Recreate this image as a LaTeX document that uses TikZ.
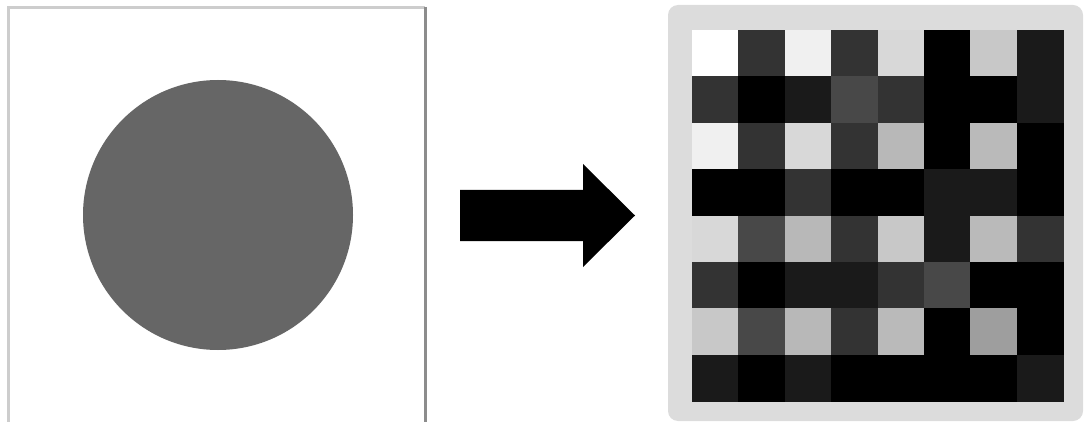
\documentclass[tikz,border=0pt]{standalone}
\begin{document}
\begin{tikzpicture}[x=1pt,y=-1pt,
  panelbg/.style={fill={rgb,255:red,220;green,220;blue,220}, rounded corners=10pt},
  bigarrow/.style={fill=black}]
\useasboundingbox (0,0) rectangle (1084,422);
% left panel
\fill[white] (8,8) rectangle (426,423);
\draw[line width=3pt, color={rgb,255:red,205;green,205;blue,205}] (8.5,424) -- (8.5,7.5) -- (425,7.5);
\draw[line width=3pt, color={rgb,255:red,140;green,140;blue,140}] (425,7) -- (425,424);
\fill[color={rgb,255:red,102;green,102;blue,102}] (218,215) circle (135);
% arrow
\fill[bigarrow] (460,190) -- (583,190) -- (583,164) -- (635,215.5) -- (583,267) -- (583,241) -- (460,241) -- cycle;
% right panel
\fill[panelbg] (668,5) rectangle (1083,421);
\def\gx{692}\def\gy{30}\def\cs{46.4}
\foreach \row [count=\r from 0] in {
 {255,51,240,51,216,0,200,26},
 {51,0,26,72,51,0,0,26},
 {240,51,216,51,184,0,186,0},
 {0,0,51,0,0,26,26,0},
 {216,72,184,51,200,26,186,51},
 {51,0,26,26,51,72,0,0},
 {200,72,184,51,186,0,158,0},
 {26,0,26,0,0,0,0,26}}{
  \foreach \v [count=\c from 0] in \row {
    \pgfmathsetmacro\g{\v/255}
    \definecolor{cellc}{gray}{\g}
    \fill[cellc] (\gx+\c*\cs,\gy+\r*\cs) rectangle (\gx+\c*\cs+\cs+0.3,\gy+\r*\cs+\cs+0.3);
  }
}
\end{tikzpicture}
\end{document}
